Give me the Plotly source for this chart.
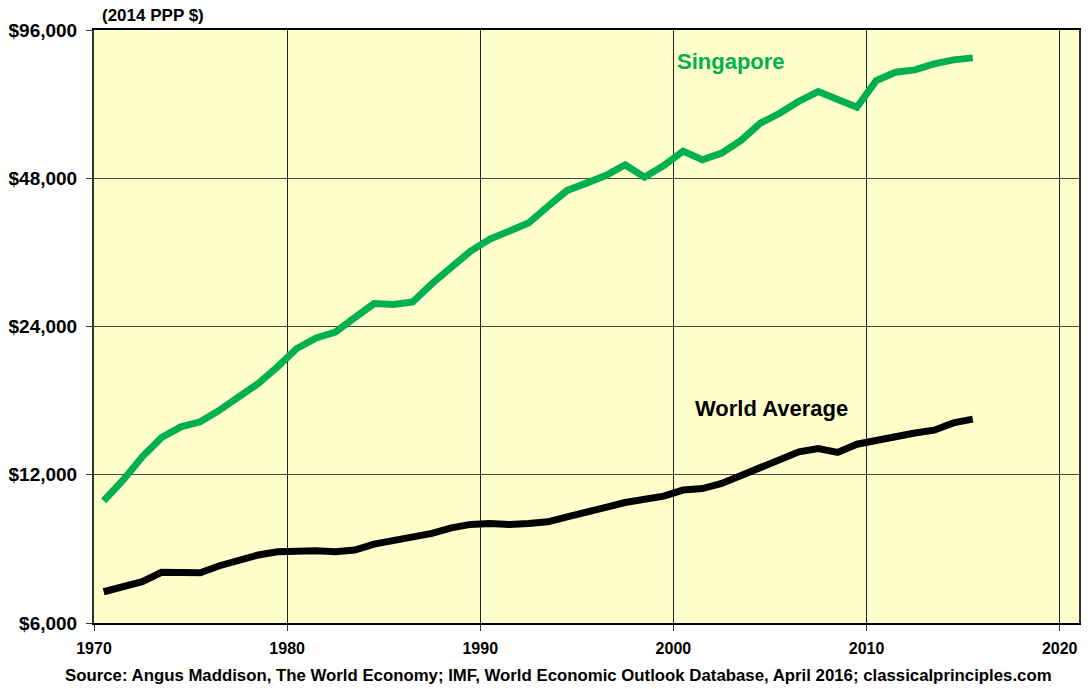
import plotly.graph_objects as go
import math

years = list(range(1970, 2016))
singapore = [10620, 11700, 13050, 14280, 15010, 15370, 16230, 17220, 18380, 19870,
             21650, 22750, 23390, 25020, 26710, 26590, 26910, 29330, 31790, 34150,
             36120, 37440, 38920, 42080, 45340, 46920, 48630, 51120, 48250, 50950,
             54480, 52330, 53970, 57270, 62090, 65050, 68810, 72000, 69590, 66910,
             75780, 78800, 79680, 81950, 83490, 84270]
world = [6944, 7110, 7280, 7603, 7624, 7590, 7842, 8052, 8244, 8371,
         8400, 8410, 8371, 8437, 8677, 8800, 8953, 9121, 9364, 9514,
         9558, 9514, 9558, 9630, 9858, 10040, 10300, 10540, 10660, 10860,
         11170, 11250, 11520, 11940, 12360, 12850, 13360, 13570, 13320, 13840,
         14110, 14370, 14590, 14780, 15290, 15560]
y_ticks = [6000, 12000, 24000, 48000, 96000]
y_tick_labels = ["$6,000", "$12,000", "$24,000", "$48,000", "$96,000"]
x_ticks = [1970, 1980, 1990, 2000, 2010, 2020]
x_tick_labels = ["1970", "1980", "1990", "2000", "2010", "2020"]

xpos = [y + 0.5 for y in years]  # mid-year positions

FONT = "Liberation Sans, Arial, sans-serif"
GREEN = "#00B050"

fig = go.Figure()
fig.add_trace(go.Scatter(x=xpos, y=singapore, mode="lines",
                         line=dict(color=GREEN, width=7), showlegend=False))
fig.add_trace(go.Scatter(x=xpos, y=world, mode="lines",
                         line=dict(color="black", width=7), showlegend=False))

fig.update_layout(
    width=1092, height=689,
    margin=dict(l=94, r=13, t=30, b=66),
    paper_bgcolor="white",
    plot_bgcolor="#FFFFCC",
    font=dict(family=FONT, color="black"),
    xaxis=dict(range=[1970, 2021], tickvals=x_ticks,
               ticktext=["<b>" + t + "</b>" for t in x_tick_labels],
               tickfont=dict(size=16, family=FONT, color="black"),
               ticklabelstandoff=4, automargin=False,
               showgrid=True, gridcolor="#222222", gridwidth=1,
               ticks="outside", ticklen=6, tickcolor="#333333",
               showline=True, linecolor="black", linewidth=2, mirror=True,
               zeroline=False),
    yaxis=dict(type="log", range=[math.log10(6000), math.log10(96000)],
               tickvals=y_ticks,
               ticktext=["<b>" + t + "</b>" for t in y_tick_labels],
               tickfont=dict(size=19, family=FONT, color="black"),
               ticklabelstandoff=5, automargin=False,
               showgrid=True, gridcolor="#444444", gridwidth=1,
               ticks="outside", ticklen=6, tickcolor="#333333",
               showline=True, linecolor="#333333", linewidth=2, mirror=True,
               zeroline=False),
    annotations=[
        dict(text="<b>Singapore</b>", xref="paper", yref="paper", x=0.6467, y=0.947,
             xanchor="center", yanchor="middle", showarrow=False,
             font=dict(size=22, color=GREEN, family=FONT)),
        dict(text="<b>World Average</b>", xref="paper", yref="paper", x=0.688, y=0.362,
             xanchor="center", yanchor="middle", showarrow=False,
             font=dict(size=22, color="black", family=FONT)),
        dict(text="<b>(2014 PPP $)</b>", xref="paper", yref="paper", x=0.006, y=1.0245,
             xanchor="left", yanchor="middle", showarrow=False,
             font=dict(size=17, color="black", family=FONT)),
        dict(text="<b>Source: Angus Maddison, The World Economy; IMF, World Economic Outlook Database, April 2016; classicalprinciples.com</b>",
             xref="paper", yref="paper", x=0.472, y=-0.0893,
             xanchor="center", yanchor="middle", showarrow=False,
             font=dict(size=16.8, color="black", family=FONT)),
    ],
)

fig.write_html("out.html", config={"displayModeBar": False},
               post_script="document.body.style.margin='0';document.body.style.padding='0';")
